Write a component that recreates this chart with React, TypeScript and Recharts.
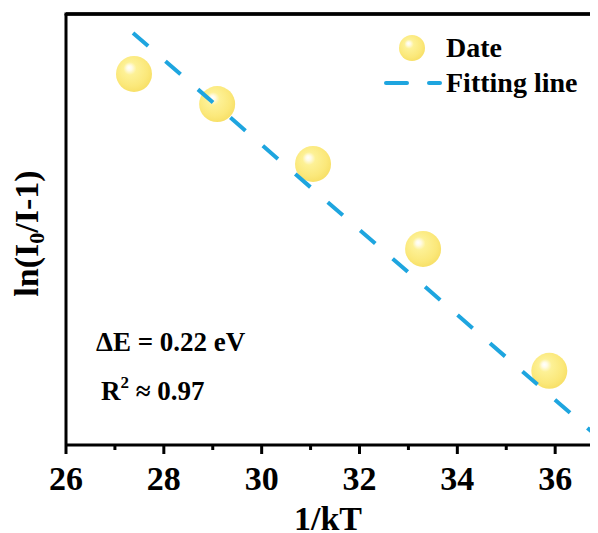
import React from 'react';
import { ScatterChart, Scatter, XAxis, YAxis, Legend, ReferenceLine } from 'recharts';

const dataX = [27.39, 29.09, 31.05, 33.3, 35.88];
const dataY = [8.61, 7.91, 6.52, 4.55, 1.72];
const fitX = [27.37, 37.0];
const fitY = [9.56, 0.06];
const xTicks = [26, 27, 28, 29, 30, 31, 32, 33, 34, 35, 36, 37];
const seriesNames = ['Date', 'Fitting line'];
const annotations = ['ΔE = 0.22 eV', 'R', '2', ' ≈ 0.97'];

const points = dataX.map((x, i) => ({ x, y: dataY[i] }));
const fitPoints = fitX.map((x, i) => ({ x, y: fitY[i] }));

const FONT = 'Liberation Serif';
const LINE_COLOR = '#1EA5DF';

const SphereDefs = ({ id }: { id: string }) => (
  <defs>
    <radialGradient id={id} cx="45%" cy="42%" r="60%" fx="36%" fy="32%">
      <stop offset="0%" stopColor="#ffffff" />
      <stop offset="12%" stopColor="#fffbe6" />
      <stop offset="30%" stopColor="#fdf196" />
      <stop offset="75%" stopColor="#fbe87a" />
      <stop offset="100%" stopColor="#f7df66" />
    </radialGradient>
  </defs>
);

const Sphere = (props: any) => {
  const { cx, cy, index } = props;
  if (cx == null || cy == null) return <g />;
  const id = `sph-${index}`;
  return (
    <g>
      <SphereDefs id={id} />
      <circle cx={cx} cy={cy} r={18} fill={`url(#${id})`} />
    </g>
  );
};

const XTick = (props: any) => {
  const { x, y, payload } = props;
  const v = payload.value;
  const major = v % 2 === 0;
  return (
    <g>
      <line x1={x} x2={x} y1={y} y2={y + (major ? 9 : 5)} stroke="#000" strokeWidth={3} />
      {major && (
        <text x={x} y={y + 45} textAnchor="middle" fontFamily={FONT} fontWeight="bold" fontSize={34} fill="#000">
          {v}
        </text>
      )}
    </g>
  );
};

const YLabel = (props: any) => {
  const vb = props.viewBox || { x: 0, y: 6, width: 58, height: 431 };
  const cx = 30;
  const cy = vb.y + vb.height / 2 + 4;
  return (
    <text
      x={cx}
      y={cy}
      transform={`rotate(-90, ${cx}, ${cy})`}
      textAnchor="middle"
      fontFamily={FONT}
      fontWeight="bold"
      fontSize={34}
      fill="#000"
    >
      ln(I<tspan fontSize={22} dy={6}>0</tspan>
      <tspan dy={-6}>/I-1)</tspan>
    </text>
  );
};

const XLabel = (props: any) => {
  const vb = props.viewBox || { x: 58, y: 437, width: 587, height: 88 };
  return (
    <text x={320} y={vb.y + 85} textAnchor="middle" fontFamily={FONT} fontWeight="bold" fontSize={34} fill="#000">
      1/kT
    </text>
  );
};

const LegendContent = () => (
  <svg width={210} height={72} style={{ overflow: 'visible', display: 'block' }}>
    <SphereDefs id="sph-legend" />
    <circle cx={34} cy={18} r={13} fill="url(#sph-legend)" />
    <text x={68} y={27} fontFamily={FONT} fontWeight="bold" fontSize={28} fill="#000">
      {seriesNames[0]}
    </text>
    <line x1={8} x2={29} y1={53} y2={53} stroke={LINE_COLOR} strokeWidth={4} strokeLinecap="round" />
    <line x1={51} x2={62} y1={53} y2={53} stroke={LINE_COLOR} strokeWidth={4} strokeLinecap="round" />
    <text x={68} y={62} fontFamily={FONT} fontWeight="bold" fontSize={28} fill="#000">
      {seriesNames[1]}
    </text>
  </svg>
);

export default function App() {
  return (
    <div style={{ position: 'relative', width: 590, height: 525, overflow: 'hidden' }}>
      <ScatterChart width={645} height={525} margin={{ top: 0, right: 0, left: 0, bottom: 0 }}>
        <XAxis
          xAxisId="top"
          orientation="top"
          type="number"
          dataKey="x"
          domain={[26, 38]}
          height={6}
          axisLine={{ stroke: '#000', strokeWidth: 3 }}
          tickLine={false}
          tick={false}
        />
        <XAxis
          xAxisId="bottom"
          type="number"
          dataKey="x"
          domain={[26, 38]}
          ticks={xTicks}
          interval={0}
          height={88}
          axisLine={{ stroke: '#000', strokeWidth: 3 }}
          tickLine={false}
          tickSize={0}
          tickMargin={0}
          tick={<XTick />}
          label={{ content: <XLabel /> }}
        />
        <YAxis
          type="number"
          dataKey="y"
          domain={[0, 10]}
          width={58}
          axisLine={{ stroke: '#000', strokeWidth: 3 }}
          tickLine={false}
          tick={false}
          label={{ content: <YLabel /> }}
        />
        <ReferenceLine xAxisId="bottom" y={10} stroke="#000" strokeWidth={3} ifOverflow="visible" />
        <Legend
          layout="vertical"
          align="center"
          verticalAlign="middle"
          content={<LegendContent />}
          wrapperStyle={{ position: 'absolute', left: 370, top: 22, width: 210, height: 72 }}
        />
        <Scatter
          name={seriesNames[0]}
          xAxisId="bottom"
          data={points}
          shape={<Sphere />}
          isAnimationActive={false}
        />
        <Scatter
          name={seriesNames[1]}
          xAxisId="bottom"
          data={fitPoints}
          line={{ stroke: LINE_COLOR, strokeWidth: 4, strokeDasharray: '20 23' }}
          shape={() => <g />}
          isAnimationActive={false}
        />
      </ScatterChart>
      <svg
        width={590}
        height={525}
        style={{ position: 'absolute', left: 0, top: 0, pointerEvents: 'none' }}
      >
        <line x1={56.5} x2={590} y1={6} y2={6} stroke="#000" strokeWidth={3} />
        <text x={88} y={343} fontFamily={FONT} fontWeight="bold" fontSize={27} fill="#000">
          {annotations[0]}
        </text>
        <text x={93} y={392} fontFamily={FONT} fontWeight="bold" fontSize={27} fill="#000">
          {annotations[1]}
          <tspan fontSize={17} dy={-12}>{annotations[2]}</tspan>
          <tspan dy={12}>{annotations[3]}</tspan>
        </text>
      </svg>
    </div>
  );
}
